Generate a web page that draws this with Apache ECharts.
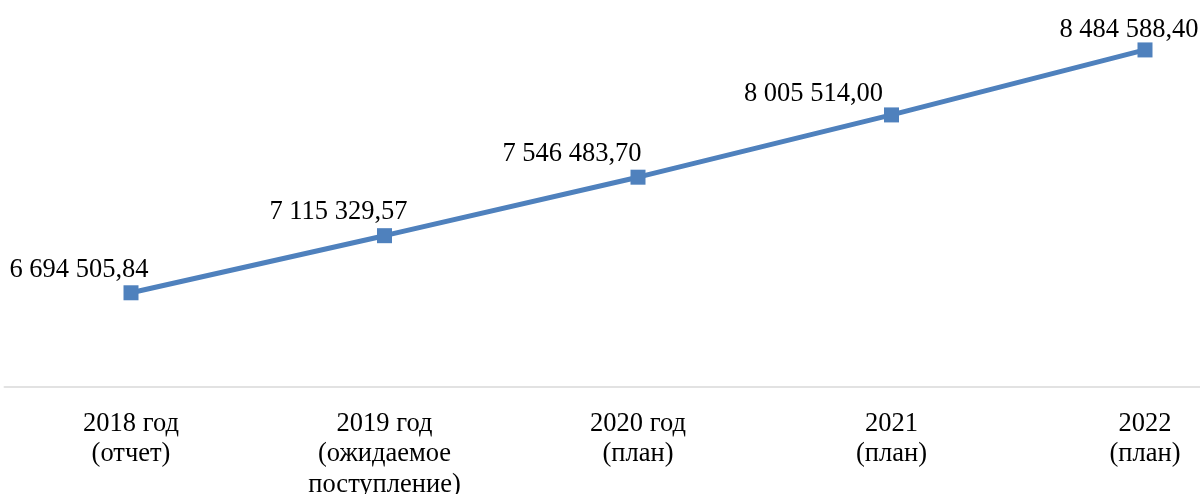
<!DOCTYPE html>
<html>
<head>
<meta charset="utf-8">
<script src="https://cdn.jsdelivr.net/npm/echarts@6/dist/echarts.min.js"></script>
<style>
html,body{margin:0;padding:0;background:#fff;}
#chart{width:1200px;height:494px;}
</style>
</head>
<body>
<div id="chart"></div>
<script>
var categories = ["2018 год\n(отчет)", "2019 год\n(ожидаемое\nпоступление)", "2020 год\n(план)", "2021\n(план)", "2022\n(план)"];
var values = [6694505.84, 7115329.57, 7546483.70, 8005514.00, 8484588.40];
var labelOffsets = [[-52, -23], [-46, -24], [-66, -23], [-78, -21], [-16, -20]];

function fmt(v) {
  var parts = v.toFixed(2).split('.');
  var intPart = parts[0].replace(/\B(?=(\d{3})+(?!\d))/g, ' ');
  return intPart + ',' + parts[1];
}

var seriesData = values.map(function (v, i) {
  return {
    value: v,
    label: { offset: labelOffsets[i] }
  };
});

var chart = echarts.init(document.getElementById('chart'));
chart.setOption({
  animation: false,
  backgroundColor: '#ffffff',
  grid: {
    left: 4.25,
    right: -71.75,
    top: -20,
    bottom: 107,
    containLabel: false,
    outerBoundsMode: 'none'
  },
  xAxis: {
    type: 'category',
    data: categories,
    boundaryGap: true,
    axisLine: { show: true, lineStyle: { color: '#d9d9d9', width: 1.5 } },
    axisTick: { show: false },
    axisLabel: {
      interval: 0,
      margin: 21.5,
      color: '#000000',
      fontFamily: 'Liberation Serif',
      fontSize: 26.5,
      lineHeight: 30.5,
      align: 'center'
    },
    splitLine: { show: false }
  },
  yAxis: {
    type: 'value',
    min: 6000000,
    max: 9000000,
    show: false,
    splitLine: { show: false }
  },
  series: [{
    type: 'line',
    data: seriesData,
    symbol: 'rect',
    symbolSize: 15,
    lineStyle: { color: '#4f81bd', width: 5 },
    itemStyle: { color: '#4f81bd' },
    label: {
      show: true,
      position: 'inside',
      color: '#000000',
      fontFamily: 'Liberation Serif',
      fontSize: 26.5,
      lineHeight: 26,
      formatter: function (p) { return fmt(p.value); }
    }
  }]
});
</script>
</body>
</html>
